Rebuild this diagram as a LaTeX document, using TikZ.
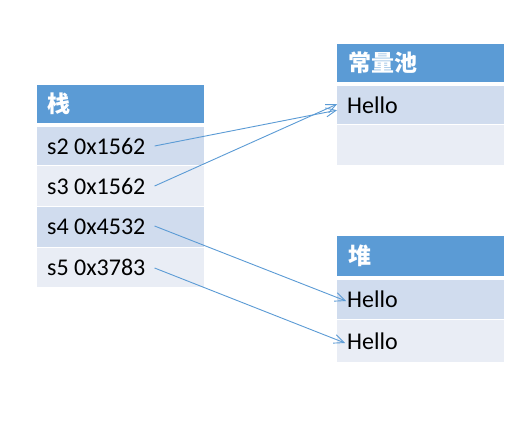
\documentclass[tikz,border=0pt]{standalone}
\usepackage{fontspec}
\setmainfont{Carlito}
\newfontfamily\cjk{Noto Sans CJK SC}
\usetikzlibrary{arrows.meta}
\definecolor{hdr}{HTML}{5B9BD5}
\definecolor{rowA}{HTML}{D0DCEE}
\definecolor{rowB}{HTML}{E9EDF5}
\definecolor{conncol}{HTML}{5B9BD5}
\tikzset{
  cell/.style={draw=none, minimum width=167pt, inner sep=0pt, anchor=north west},
  hcell/.style={cell, fill=hdr},
  acell/.style={cell, fill=rowA},
  bcell/.style={cell, fill=rowB},
  htxt/.style={inner sep=0pt, anchor=west, text=white, font=\cjk\bfseries\fontsize{23}{25}\selectfont},
  ctxt/.style={inner sep=0pt, anchor=west, text=black, font=\fontsize{24}{27}\selectfont},
  conn/.style={draw=conncol, line width=0.9pt, -{Straight Barb[length=10pt,width=9pt]}}
}
\begin{document}
\begin{tikzpicture}[x=1pt,y=-1pt]
\useasboundingbox[fill=white] (0,0) rectangle (520,424);
% stack
\node[hcell, minimum height=38pt] (sh) at (37,85) {};
\node[htxt] (sht) at (47,104) {栈};
\node[acell, minimum height=38pt] (s2) at (37,127) {};
\node[bcell, minimum height=40pt] (s3) at (37,166) {};
\node[acell, minimum height=40pt] (s4) at (37,207) {};
\node[bcell, minimum height=39pt] (s5) at (37,248) {};
\node[ctxt] (s2t) at (47,146) {s2 0x1562};
\node[ctxt] (s3t) at (47,186) {s3 0x1562};
\node[ctxt] (s4t) at (47,227) {s4 0x4532};
\node[ctxt] (s5t) at (47,267) {s5 0x3783};
% constant pool
\node[hcell, minimum height=38pt] (ph) at (337,44) {};
\node[htxt] (pht) at (348,63) {常量池};
\node[acell, minimum height=38pt] (p1) at (337,86) {};
\node[bcell, minimum height=40pt] (p2) at (337,125) {};
\node[ctxt] (p1t) at (347,105) {Hello};
% heap
\node[hcell, minimum height=40pt] (hh) at (337,236) {};
\node[htxt] (hht) at (348,256) {堆};
\node[acell, minimum height=39pt] (h1) at (337,280) {};
\node[bcell, minimum height=42pt] (h2) at (337,320) {};
\node[ctxt] (h1t) at (347,299) {Hello};
\node[ctxt] (h2t) at (347,341) {Hello};
% connectors
\draw[conn] ([xshift=9pt]s2t.east) -- ([yshift=-5pt]p1.west);
\draw[conn] ([xshift=9pt]s3t.east) -- ([yshift=1pt]p1.west);
\draw[conn] ([xshift=9pt,yshift=1pt]s4t.east) -- ([xshift=-1pt,yshift=-2pt]h1t.west);
\draw[conn] ([xshift=9pt,yshift=-1pt]s5t.east) -- ([xshift=-2pt,yshift=-2pt]h2t.west);
\end{tikzpicture}
\end{document}
